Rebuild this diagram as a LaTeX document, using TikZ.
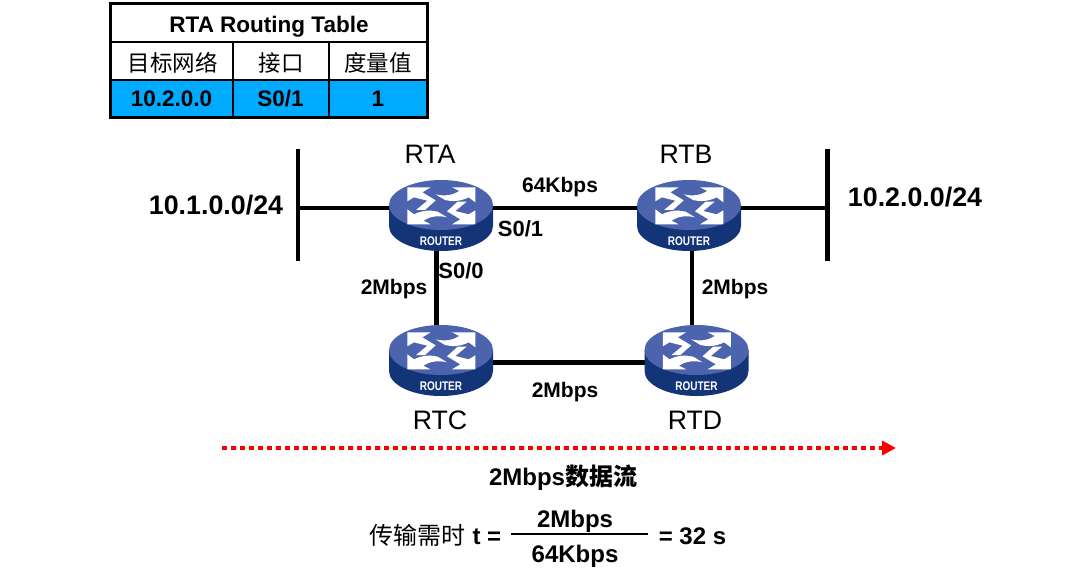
\documentclass[tikz,border=0pt]{standalone}
\usepackage{graphicx}
\usepackage{fontspec}
\setmainfont{Liberation Sans}
\newfontfamily\cjk{Noto Sans CJK SC}
\usetikzlibrary{arrows.meta}
\definecolor{rtop}{RGB}{76,100,174}
\definecolor{rside}{RGB}{20,52,120}
\definecolor{cellblue}{RGB}{0,170,255}
\tikzset{
  x=1pt,y=-1pt,
  wire/.style={line width=4.4pt,black},
  lbl/.style={font=\fontsize{21}{25}\selectfont\bfseries,inner sep=0pt,anchor=center},
  portlbl/.style={font=\fontsize{22}{25}\selectfont\bfseries,inner sep=0pt,anchor=center},
  rname/.style={font=\fontsize{26.7}{30}\selectfont,inner sep=0pt,anchor=center},
  netlbl/.style={font=\fontsize{26.8}{30}\selectfont\bfseries,inner sep=0pt,anchor=center},
  cell/.style={draw=black,line width=2pt,inner sep=0pt,outer sep=0pt,font=\fontsize{22.5}{26}\selectfont\bfseries},
  celltext/.style={inner sep=0pt,anchor=base,font=\fontsize{22.5}{26}\selectfont\bfseries},
  formula/.style={font=\fontsize{24}{28}\selectfont\bfseries,inner sep=0pt},
  routerbox/.style={minimum width=104pt,minimum height=50pt,inner sep=0pt,outer sep=0pt},
  arrowglyph/.style={fill=white,draw=none},
}
\newcommand{\routerat}[3]{%
  \node[routerbox] (#1) at (#2,#3) {};
  \begin{scope}[shift={(#2,#3)}]
    \fill[rside] (-52,0) -- (-52,21) arc[start angle=180,end angle=0,x radius=52,y radius=25] -- (52,0) -- cycle;
    \fill[rtop] (0,0) ellipse[x radius=52,y radius=25];
    \begin{scope}[shift={(-71,-50)},scale=0.3333]
      \fill[arrowglyph] (112,97) -- (182,97) -- (157,112) -- (197,136) -- (165,165) -- (138,165) -- (172,137) -- (132,127) -- (112,139) -- cycle;
      \fill[arrowglyph] (316,208) -- (246,208) -- (271,193) -- (231,169) -- (263,140) -- (290,140) -- (256,168) -- (296,178) -- (316,166) -- cycle;
      \fill[arrowglyph] (316,97) -- (316,142) -- (296,127) .. controls (270,140) and (245,140) .. (225,135) -- (197,118) .. controls (225,125) and (250,120) .. (268,108) -- (246,97) -- cycle;
      \fill[arrowglyph] (112,208) -- (112,163) -- (132,178) .. controls (158,165) and (183,165) .. (203,170) -- (231,187) .. controls (203,180) and (178,185) .. (160,197) -- (182,208) -- cycle;
    \end{scope}
    \node[font=\fontsize{12.5}{14}\selectfont\bfseries,text=white,inner sep=0pt] (#1label) at (0,36.5) {\scalebox{0.8}[1]{ROUTER}};
  \end{scope}}
\begin{document}
\begin{tikzpicture}
\useasboundingbox (0,0) rectangle (1075,568);
\fill[white] (0,0) rectangle (1075,568);
% table
\node[cell,fill=white,minimum width=317pt,minimum height=38.5pt] (ttitle) at (269,22.75) {};
\node[celltext] (ttitlet) at (269,32) {RTA Routing Table};
\node[cell,fill=white,minimum width=122pt,minimum height=38pt] (h1) at (171.5,61) {};
\node[cell,fill=white,minimum width=96pt,minimum height=38pt] (h2) at (280.5,61) {};
\node[cell,fill=white,minimum width=99pt,minimum height=38pt] (h3) at (378,61) {};
\node[celltext] (h1t) at (172.5,71) {\mdseries\cjk 目标网络};
\node[celltext] (h2t) at (281,71) {\mdseries\cjk 接口};
\node[celltext] (h3t) at (378,71) {\mdseries\cjk 度量值};
\node[cell,fill=cellblue,minimum width=122pt,minimum height=37.5pt] (c1) at (171.5,98.75) {10.2.0.0};
\node[cell,fill=cellblue,minimum width=96pt,minimum height=37.5pt] (c2) at (280.5,98.75) {S0/1};
\node[cell,fill=cellblue,minimum width=99pt,minimum height=37.5pt] (c3) at (378,98.75) {1};
\draw[black,line width=3.4pt] (ttitle.north west) rectangle (c3.south east);
% buses
\coordinate (busLt) at (298,149);
\coordinate (busLb) at (298,261);
\coordinate (busRt) at (827.5,149);
\coordinate (busRb) at (827.5,261);
\coordinate (busLm) at (298,208);
\coordinate (busRm) at (827.5,208);
\coordinate (rtaL) at (441,208);
\coordinate (rtaR) at (441,208);
\coordinate (rtbL) at (689,208);
\coordinate (rtbS) at (692,230);
\coordinate (rtaS) at (436.5,230);
\coordinate (rtcN) at (436.5,351);
\coordinate (rtdN) at (692,351);
\coordinate (rtcE) at (441,362.5);
\coordinate (rtdW) at (696.5,362.5);
\draw[wire] (busLt) -- (busLb);
\draw[wire] (busRt) -- (busRb);
\draw[wire] (busLm) -- (rtaL);
\draw[wire] (rtaR) -- (rtbL);
\draw[wire] (rtbL) -- (busRm);
\draw[wire] (rtaS) -- (rtcN);
\draw[wire] (rtbS) -- (rtdN);
\draw[wire] (rtcE) -- (rtdW);
\routerat{rta}{441}{205}
\routerat{rtb}{689}{205}
\routerat{rtc}{441}{350}
\routerat{rtd}{696.5}{350}
% labels
\node[rname] (ta) at (430,154) {RTA};
\node[rname] (tb) at (686,154) {RTB};
\node[rname] (tc) at (440,420) {RTC};
\node[rname] (td) at (695,420) {RTD};
\node[netlbl] (n1) at (216,205) {10.1.0.0/24};
\node[netlbl] (n2) at (915,197) {10.2.0.0/24};
\node[lbl] (l1) at (560,187) {64Kbps};
\node[portlbl] (l2) at (520.5,229) {S0/1};
\node[portlbl] (l3) at (461,271) {S0/0};
\node[lbl] (l4) at (394,289) {2Mbps};
\node[lbl] (l5) at (735,289) {2Mbps};
\node[lbl] (l6) at (565,392) {2Mbps};
% flow
\coordinate (flowA) at (222,448);
\coordinate (flowB) at (896,448);
\draw[red,line width=4.4pt,dash pattern=on 5pt off 4pt,-{Triangle[length=14pt,width=14pt,fill=red]}] (flowA) -- (flowB);
\node[formula] (ft) at (563,478) {2Mbps{\cjk 数据流}};
\node[formula] (fa) at (435.5,535) {{\cjk\mdseries 传输需时} t =};
\node[formula] (fn) at (575,521) {2Mbps};
\node[formula] (fd) at (575,556) {64Kbps};
\node[formula] (fr) at (692.5,536) {= 32 s};
\coordinate (barL) at (511,534);
\coordinate (barR) at (648,534);
\draw[black,line width=1.6pt] (barL) -- (barR);
\end{tikzpicture}
\end{document}
